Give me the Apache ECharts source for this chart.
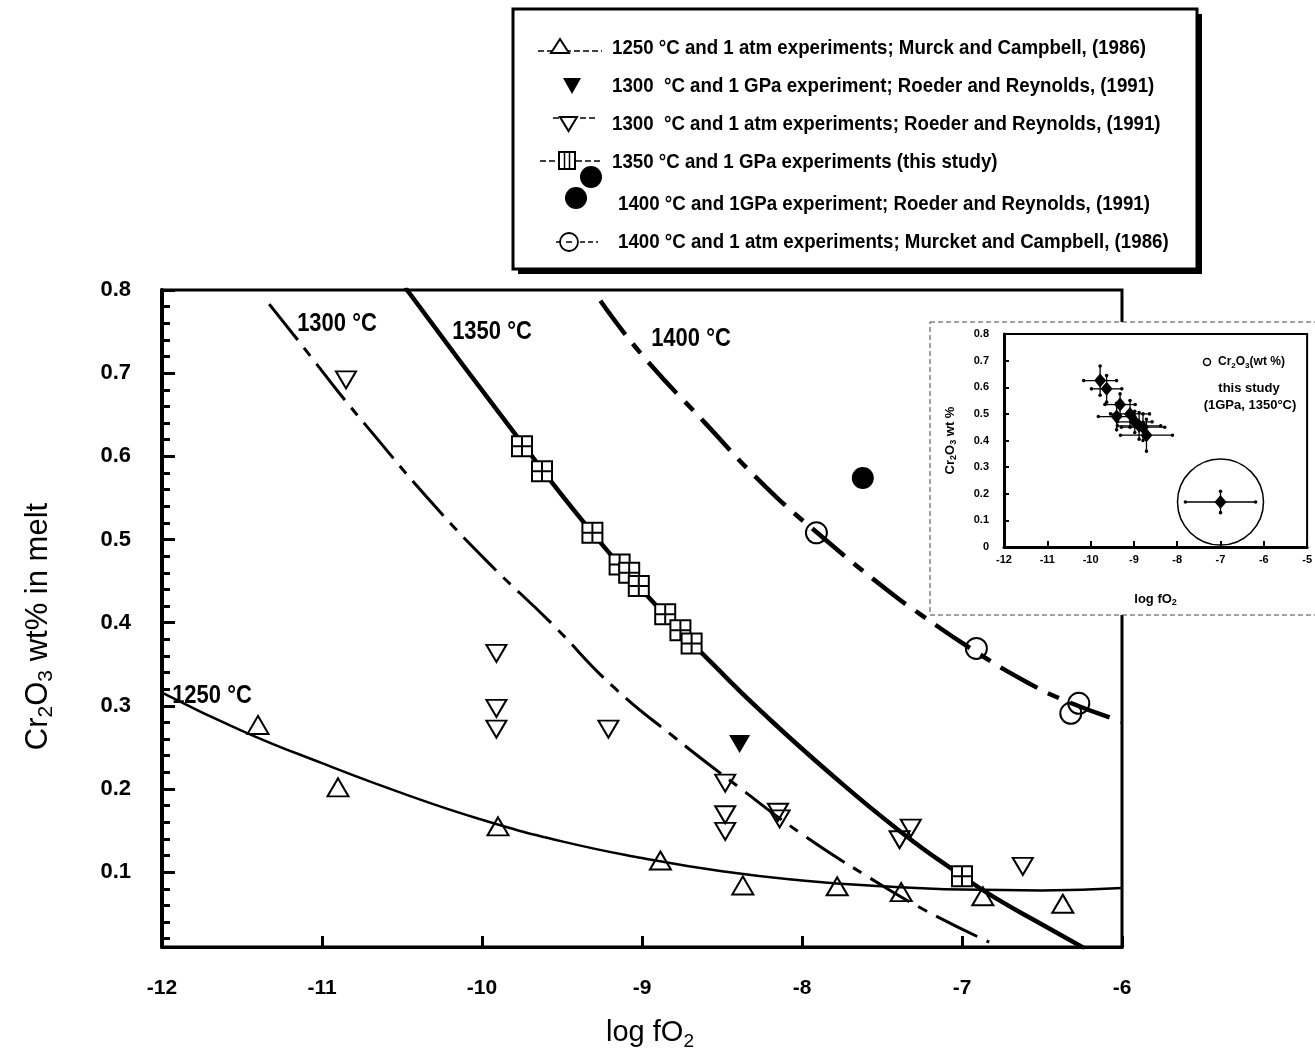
<!DOCTYPE html>
<html><head><meta charset="utf-8">
<script src="https://cdn.jsdelivr.net/npm/echarts@6/dist/echarts.min.js"></script>
<style>html,body{margin:0;padding:0;background:#fff}#c{width:1315px;height:1056px}</style>
</head><body><div id="c"></div>
<script>
// ---------------- data ----------------
const xTickValues = [-12, -11, -10, -9, -8, -7, -6];
const yTickLabels = [0.1, 0.2, 0.3, 0.4, 0.5, 0.6, 0.7, 0.8];
const yMinorTicks = [0.02, 0.04, 0.06, 0.08, 0.12, 0.14, 0.16, 0.18, 0.22, 0.24, 0.26, 0.28, 0.32, 0.34, 0.36, 0.38,
  0.42, 0.44, 0.46, 0.48, 0.52, 0.54, 0.56, 0.58, 0.62, 0.64, 0.66, 0.68, 0.72, 0.74, 0.76, 0.78];

// fitted curves
const curve1250X = [-12, -11.5, -11, -10.5, -10, -9.5, -9, -8.5, -8, -7.5, -7, -6.5, -6];
const curve1250Y = [0.316, 0.270, 0.231, 0.195, 0.163, 0.137, 0.117, 0.101, 0.090, 0.083, 0.079, 0.078, 0.081];
const curve1300X = [-11.33, -11.07, -10.90, -10.72, -10.34, -9.97, -9.57, -9.18, -8.79, -8.40, -8.01, -7.61, -7.22, -6.83];
const curve1300Y = [0.783, 0.720, 0.678, 0.636, 0.550, 0.474, 0.400, 0.323, 0.261, 0.203, 0.147, 0.097, 0.053, 0.016];
const curve1350X = [-10.48, -9.79, -9.31, -8.86, -8.53, -8.27, -7.82, -7.38, -7.02, -6.80, -6.48, -6.23];
const curve1350Y = [0.803, 0.626, 0.508, 0.410, 0.345, 0.296, 0.218, 0.148, 0.098, 0.070, 0.035, 0.008];
const curve1400X = [-9.26, -9.00, -8.615, -8.23, -7.855, -7.46, -7.26, -6.93, -6.60, -6.34, -6.00];
const curve1400Y = [0.787, 0.722, 0.642, 0.564, 0.500, 0.438, 0.410, 0.367, 0.329, 0.305, 0.281];

// experiments
const tri1250X = [-11.40, -10.90, -9.90, -8.885, -8.37, -7.78, -7.38, -6.87, -6.37];
const tri1250Y = [0.277, 0.202, 0.155, 0.114, 0.084, 0.083, 0.076, 0.071, 0.062];
const down1300atmX = [-10.85, -9.91, -9.91, -9.91, -9.21, -8.48, -8.48, -8.48, -8.15, -8.14, -7.32, -7.39, -6.62];
const down1300atmY = [0.692, 0.363, 0.297, 0.272, 0.272, 0.207, 0.169, 0.149, 0.172, 0.164, 0.153, 0.139, 0.107];
const down1300GPaX = [-8.39];
const down1300GPaY = [0.254];
const sq1350X = [-9.75, -9.625, -9.31, -9.14, -9.08, -9.02, -8.855, -8.76, -8.69, -7.00];
const sq1350Y = [0.612, 0.582, 0.508, 0.470, 0.460, 0.444, 0.410, 0.391, 0.375, 0.095];
const circ1400atmX = [-7.91, -6.91, -6.27, -6.32];
const circ1400atmY = [0.508, 0.369, 0.303, 0.291];
const dot1400GPaX = [-7.62];
const dot1400GPaY = [0.574];

// inset (this study, with error bars)
const insetX = [-9.78, -9.63, -9.32, -9.40, -9.09, -8.98, -8.88, -8.79, -8.71, -7.00];
const insetY = [0.625, 0.594, 0.535, 0.490, 0.500, 0.470, 0.455, 0.450, 0.420, 0.169];
const insetXErr = [0.38, 0.35, 0.35, 0.42, 0.45, 0.40, 0.50, 0.50, 0.60, 0.81];
const insetYErr = [0.055, 0.05, 0.04, 0.05, 0.05, 0.04, 0.05, 0.05, 0.06, 0.04];
const insetOutlierX = [-7.00];
const insetOutlierY = [0.169];

const legendRows = [
  '1250 °C and 1 atm experiments; Murck and Campbell, (1986)',
  '1300  °C and 1 GPa experiment; Roeder and Reynolds, (1991)',
  '1300  °C and 1 atm experiments; Roeder and Reynolds, (1991)',
  '1350 °C and 1 GPa experiments (this study)',
  '1400 °C and 1GPa experiment; Roeder and Reynolds, (1991)',
  '1400 °C and 1 atm experiments; Murcket and Campbell, (1986)'
];
const curveLabels = ['1250 °C', '1300 °C', '1350 °C', '1400 °C'];

// ---------------- chart ----------------
const F = '"Liberation Sans", Arial, Helvetica, sans-serif';
const zip = (xs, ys) => xs.map((x, i) => [x, ys[i]]);
const openMarker = { color: 'rgba(255,255,255,0)', borderColor: '#000', borderWidth: 2, opacity: 1 };

const chart = echarts.init(document.getElementById('c'), null, { renderer: 'canvas' });

const G = [];
// legend box with shadow
G.push({ type: 'rect', z: 5, shape: { x: 518, y: 14, width: 684, height: 260 }, style: { fill: '#000' } });
G.push({ type: 'rect', z: 6, shape: { x: 513, y: 9, width: 684, height: 260 }, style: { fill: '#fff', stroke: '#000', lineWidth: 3 } });
const rowY = [48, 86, 124, 162, 204, 242];
const rowX = [612, 612, 612, 612, 618, 618];
legendRows.forEach((t, i) => G.push({
  type: 'text', z: 7, x: rowX[i], y: rowY[i], scaleY: 1.12, originX: 0, originY: 0,
  style: { text: t, fill: '#000', font: 'bold 18.7px ' + F, textAlign: 'left', textVerticalAlign: 'middle' }
}));
const lk = { stroke: '#000', lineWidth: 1.5 };
// row 1 symbol
G.push({ type: 'line', z: 7, shape: { x1: 538, y1: 51, x2: 602, y2: 51 }, style: Object.assign({ lineDash: [6, 3] }, lk) });
G.push({ type: 'polygon', z: 8, shape: { points: [[560, 39], [551, 53], [569, 53]] }, style: { fill: '#fff', stroke: '#000', lineWidth: 2 } });
// row 2
G.push({ type: 'polygon', z: 8, shape: { points: [[563, 78], [581, 78], [572, 94]] }, style: { fill: '#000' } });
// row 3
G.push({ type: 'line', z: 7, shape: { x1: 553, y1: 118, x2: 598, y2: 118 }, style: Object.assign({ lineDash: [6, 3] }, lk) });
G.push({ type: 'polygon', z: 8, shape: { points: [[560, 117], [577, 117], [568.5, 131]] }, style: { fill: '#fff', stroke: '#000', lineWidth: 2 } });
// row 4
G.push({ type: 'line', z: 7, shape: { x1: 540, y1: 161, x2: 600, y2: 161 }, style: Object.assign({ lineDash: [6, 3] }, lk) });
G.push({ type: 'rect', z: 8, shape: { x: 559, y: 152, width: 16, height: 17 }, style: { fill: '#fff', stroke: '#000', lineWidth: 2 } });
G.push({ type: 'line', z: 9, shape: { x1: 564.5, y1: 152, x2: 564.5, y2: 169 }, style: { stroke: '#000', lineWidth: 1.5 } });
G.push({ type: 'line', z: 9, shape: { x1: 569.5, y1: 152, x2: 569.5, y2: 169 }, style: { stroke: '#000', lineWidth: 1.5 } });
// row 5
G.push({ type: 'circle', z: 8, shape: { cx: 591, cy: 177, r: 11 }, style: { fill: '#000' } });
G.push({ type: 'circle', z: 8, shape: { cx: 576, cy: 198, r: 11 }, style: { fill: '#000' } });
// row 6
G.push({ type: 'line', z: 7, shape: { x1: 556, y1: 242, x2: 598, y2: 242 }, style: Object.assign({ lineDash: [5, 3] }, lk) });
G.push({ type: 'circle', z: 8, shape: { cx: 569, cy: 242, r: 9 }, style: { fill: '#fff', stroke: '#000', lineWidth: 1.8 } });
G.push({ type: 'line', z: 9, shape: { x1: 566, y1: 242, x2: 572, y2: 242 }, style: { stroke: '#000', lineWidth: 1.5 } });

// curve labels
const labelPos = [[212, 696], [337, 324], [492, 332], [691, 339]];
curveLabels.forEach((t, i) => G.push({
  type: 'text', z: 4, x: labelPos[i][0], y: labelPos[i][1], scaleY: 1.13, originX: 0, originY: 0,
  style: { text: t, fill: '#000', font: 'bold 22px ' + F, textAlign: 'center', textVerticalAlign: 'middle' }
}));

// inset box
G.push({ type: 'rect', z: 5, shape: { x: 930, y: 322, width: 400, height: 293 }, style: { fill: '#fff', stroke: '#444', lineWidth: 1, lineDash: [5, 3] } });
// inset legend text
G.push({ type: 'circle', z: 12, shape: { cx: 1207, cy: 362, r: 3.5 }, style: { fill: '#fff', stroke: '#000', lineWidth: 1.5 } });
G.push({ type: 'text', z: 12, x: 1218, y: 362, style: {
  text: '{a|Cr}{s|2}{a|O}{s|3}{a|(wt %)}', textAlign: 'left', textVerticalAlign: 'middle',
  rich: { a: { font: 'bold 12px ' + F, fill: '#000', lineHeight: 16 }, s: { font: 'bold 8px ' + F, fill: '#000', lineHeight: 8, verticalAlign: 'bottom' } }
} });
G.push({ type: 'text', z: 12, x: 1249, y: 388, style: { text: 'this study', fill: '#000', font: 'bold 13px ' + F, textAlign: 'center', textVerticalAlign: 'middle' } });
G.push({ type: 'text', z: 12, x: 1250, y: 405, style: { text: '(1GPa, 1350°C)', fill: '#000', font: 'bold 13px ' + F, textAlign: 'center', textVerticalAlign: 'middle' } });

const mainLabel = { fontSize: 21, fontWeight: 'bold', fontFamily: F, color: '#000' };
const insetLabel = { fontSize: 11, fontWeight: 'bold', fontFamily: F, color: '#000' };

const option = {
  animation: false,
  backgroundColor: '#fff',
  grid: [
    { left: 162, top: 290, width: 960, height: 660, show: true, borderColor: '#000', borderWidth: 3, backgroundColor: 'transparent', z: 0 },
    { left: 1004, top: 334, width: 306, height: 213, show: true, borderColor: '#000', borderWidth: 2, backgroundColor: '#fff', z: 6 }
  ],
  xAxis: [
    {
      type: 'value', gridIndex: 0, min: -12, max: -6, interval: 1,
      axisLine: { show: true, lineStyle: { color: '#000', width: 3 } },
      axisTick: { show: true, inside: true, length: 11, lineStyle: { color: '#000', width: 3 } },
      axisLabel: Object.assign({ margin: 31, formatter: v => String(v) }, mainLabel),
      splitLine: { show: false },
      name: '{a|log fO}{s|2}', nameLocation: 'middle', nameGap: 68,
      nameTextStyle: { padding: [0, 0, 0, 16], rich: {
        a: { fontSize: 29, fontFamily: F, color: '#000', lineHeight: 36 },
        s: { fontSize: 19, fontFamily: F, color: '#000', lineHeight: 18, verticalAlign: 'bottom' }
      } }
    },
    {
      type: 'value', gridIndex: 1, min: -12, max: -5, interval: 1, z: 7,
      axisLine: { show: true, lineStyle: { color: '#000', width: 3 } },
      axisTick: { show: true, inside: true, length: 6, lineStyle: { color: '#000', width: 2 } },
      axisLabel: Object.assign({ margin: 7, formatter: v => String(v) }, insetLabel),
      splitLine: { show: false },
      name: '{a|log fO}{s|2}', nameLocation: 'middle', nameGap: 44,
      nameTextStyle: { rich: {
        a: { fontSize: 13, fontWeight: 'bold', fontFamily: F, color: '#000', lineHeight: 16 },
        s: { fontSize: 9, fontWeight: 'bold', fontFamily: F, color: '#000', lineHeight: 8, verticalAlign: 'bottom' }
      } }
    }
  ],
  yAxis: [
    {
      type: 'value', gridIndex: 0, min: 0.01, max: 0.8,
      axisLine: { show: true, lineStyle: { color: '#000', width: 4 } },
      axisTick: { show: true, inside: true, length: 13, customValues: yTickLabels, lineStyle: { color: '#000', width: 3 } },
      axisLabel: Object.assign({}, mainLabel, { fontSize: 22, margin: 31, customValues: yTickLabels, formatter: v => v.toFixed(1) }),
      splitLine: { show: false },
      name: '{a|Cr}{s|2}{a|O}{s|3}{a| wt% in melt}', nameLocation: 'middle', nameRotate: 90, nameGap: 105,
      nameTextStyle: { padding: [0, 16, 0, 0], rich: {
        a: { fontSize: 31, fontFamily: F, color: '#000', lineHeight: 38 },
        s: { fontSize: 21, fontFamily: F, color: '#000', lineHeight: 19, verticalAlign: 'bottom' }
      } }
    },
    {
      type: 'value', gridIndex: 0, min: 0.01, max: 0.8, position: 'left',
      axisLine: { show: false },
      axisTick: { show: true, inside: true, length: 8, customValues: yMinorTicks, lineStyle: { color: '#000', width: 3 } },
      axisLabel: { show: false },
      splitLine: { show: false }
    },
    {
      type: 'value', gridIndex: 1, min: 0, max: 0.8, interval: 0.1, z: 7,
      axisLine: { show: true, lineStyle: { color: '#000', width: 3 } },
      axisTick: { show: true, inside: true, length: 5, lineStyle: { color: '#000', width: 2 } },
      axisLabel: Object.assign({ margin: 15, formatter: v => (v === 0 ? '0' : v.toFixed(1)) }, insetLabel),
      splitLine: { show: false },
      name: '{a|Cr}{s|2}{a|O}{s|3}{a| wt %}', nameLocation: 'middle', nameRotate: 90, nameGap: 46,
      nameTextStyle: { rich: {
        a: { fontSize: 13, fontWeight: 'bold', fontFamily: F, color: '#000', lineHeight: 16 },
        s: { fontSize: 9, fontWeight: 'bold', fontFamily: F, color: '#000', lineHeight: 8, verticalAlign: 'bottom' }
      } }
    }
  ],
  graphic: { elements: G },
  series: [
    { name: '1250 fit', type: 'line', xAxisIndex: 0, yAxisIndex: 0, data: zip(curve1250X, curve1250Y), smooth: 0.5, symbol: 'none', lineStyle: { color: '#000', width: 2.5 }, z: 2 },
    { name: '1300 fit', type: 'line', xAxisIndex: 0, yAxisIndex: 0, data: zip(curve1300X, curve1300Y), smooth: 0.5, symbol: 'none', lineStyle: { color: '#000', width: 3, type: [46, 10, 10, 10] }, z: 2 },
    { name: '1350 fit', type: 'line', xAxisIndex: 0, yAxisIndex: 0, data: zip(curve1350X, curve1350Y), smooth: 0.5, symbol: 'none', lineStyle: { color: '#000', width: 4.5 }, z: 2 },
    { name: '1400 fit', type: 'line', xAxisIndex: 0, yAxisIndex: 0, data: zip(curve1400X, curve1400Y), smooth: 0.5, symbol: 'none', lineStyle: { color: '#000', width: 4.5, type: [42, 12, 12, 12] }, z: 2 },
    { name: '1250 °C 1 atm', type: 'scatter', xAxisIndex: 0, yAxisIndex: 0, data: zip(tri1250X, tri1250Y), symbol: 'triangle', symbolSize: [21, 18], itemStyle: openMarker, z: 3 },
    { name: '1300 °C 1 atm', type: 'scatter', xAxisIndex: 0, yAxisIndex: 0, data: zip(down1300atmX, down1300atmY), symbol: 'triangle', symbolRotate: 180, symbolSize: [20, 17], itemStyle: openMarker, z: 3 },
    { name: '1300 °C 1 GPa', type: 'scatter', xAxisIndex: 0, yAxisIndex: 0, data: zip(down1300GPaX, down1300GPaY), symbol: 'triangle', symbolRotate: 180, symbolSize: [21, 18], itemStyle: { color: '#000', opacity: 1 }, z: 3 },
    { name: '1350 °C 1 GPa', type: 'scatter', xAxisIndex: 0, yAxisIndex: 0, data: zip(sq1350X, sq1350Y), symbol: 'path://M0,0L20,0L20,20L0,20Z M10,0L10,20 M0,10L20,10', symbolSize: 20, itemStyle: { color: '#fff', borderColor: '#000', borderWidth: 2, opacity: 1 }, z: 3 },
    { name: '1400 °C 1 atm', type: 'scatter', xAxisIndex: 0, yAxisIndex: 0, data: zip(circ1400atmX, circ1400atmY), symbol: 'circle', symbolSize: 21, itemStyle: openMarker, z: 3 },
    { name: '1400 °C 1 GPa', type: 'scatter', xAxisIndex: 0, yAxisIndex: 0, data: zip(dot1400GPaX, dot1400GPaY), symbol: 'circle', symbolSize: 22, itemStyle: { color: '#000', opacity: 1 }, z: 3 },
    {
      name: 'inset error bars', type: 'custom', xAxisIndex: 1, yAxisIndex: 2, z: 8,
      data: insetX.map((x, i) => [x, insetY[i], insetXErr[i], insetYErr[i]]),
      renderItem: function (params, api) {
        const x = api.value(0), y = api.value(1), ex = api.value(2), ey = api.value(3);
        const l = api.coord([x - ex, y]), r = api.coord([x + ex, y]);
        const t = api.coord([x, y + ey]), b = api.coord([x, y - ey]);
        const st = { stroke: '#000', lineWidth: 1.3 };
        const cap = p => ({ type: 'circle', shape: { cx: p[0], cy: p[1], r: 1.8 }, style: { fill: '#000' } });
        return { type: 'group', children: [
          { type: 'line', shape: { x1: l[0], y1: l[1], x2: r[0], y2: r[1] }, style: st },
          { type: 'line', shape: { x1: t[0], y1: t[1], x2: b[0], y2: b[1] }, style: st },
          cap(l), cap(r), cap(t), cap(b)
        ] };
      }
    },
    { name: 'inset points', type: 'scatter', xAxisIndex: 1, yAxisIndex: 2, data: zip(insetX, insetY), symbol: 'diamond', symbolSize: [12, 14], itemStyle: { color: '#000', opacity: 1 }, z: 9 },
    { name: 'inset outlier ring', type: 'scatter', xAxisIndex: 1, yAxisIndex: 2, data: zip(insetOutlierX, insetOutlierY), symbol: 'circle', symbolSize: 86, itemStyle: { color: 'rgba(255,255,255,0)', borderColor: '#000', borderWidth: 1.5, opacity: 1 }, z: 9 }
  ]
};
chart.setOption(option);
</script>
</body></html>
